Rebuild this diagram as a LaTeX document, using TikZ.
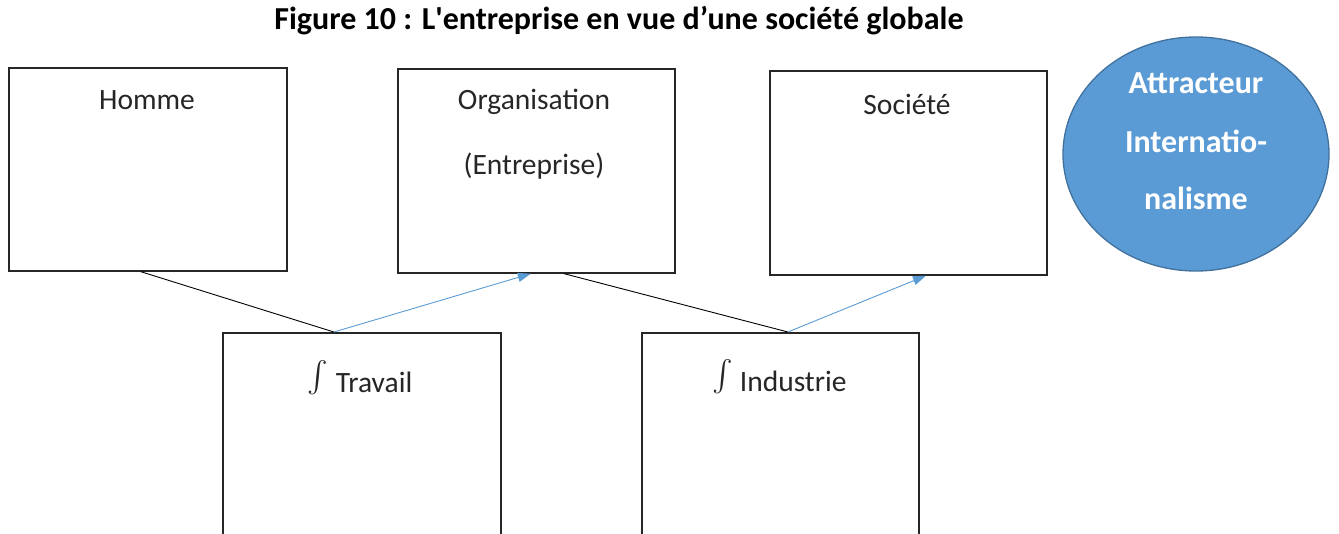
\documentclass[tikz,border=0pt]{standalone}
\usepackage{fontspec}
\usepackage{graphicx}
\setmainfont{Carlito}
\usetikzlibrary{arrows.meta,calc,shapes.geometric}
\definecolor{accent}{HTML}{5B9BD5}
\definecolor{accentdark}{HTML}{41719C}
\newcommand{\bigint}{\raisebox{-0.35ex}{\scalebox{3.1}{$\int$}}}
\begin{document}
\begin{tikzpicture}[x=1pt,y=-1pt,
  box/.style={draw=black!85,line width=1.7pt,minimum width=278pt,minimum height=203pt,inner sep=0pt,anchor=north west},
  lbl/.style={font=\fontsize{29.5}{34}\selectfont,text=black!85,inner sep=0pt},
  clbl/.style={font=\bfseries\fontsize{32}{36}\selectfont,text=white,inner sep=0pt},
  link/.style={black,line width=0.9pt},
  flow/.style={accent,line width=0.9pt,-{Triangle[length=13pt,width=9pt]}}]
\useasboundingbox (0,0) rectangle (1339,533);
\node[font=\bfseries\fontsize{32}{36}\selectfont,inner sep=0pt] (title) at (619,21) {Figure 10 : L\textquotesingle entreprise en vue d’une société globale};
\node[box] (homme) at (8,67) {};
\node[box,minimum width=277pt,minimum height=204pt] (org) at (397,68) {};
\node[box,minimum width=277pt,minimum height=204pt] (soc) at (769,70) {};
\node[box,minimum height=220pt] (trav) at (222,332) {};
\node[box,minimum width=277pt,minimum height=220pt] (ind) at (641,332) {};
\node[ellipse,draw=accentdark,line width=1.3pt,fill=accent,minimum width=266pt,minimum height=234pt,inner sep=0pt] (attr) at (1196,154) {};
\node[lbl] (thomme) at (147,100) {Homme};
\node[lbl] (torg1) at (534,102) {Organisation};
\node[lbl] (torg2) at (534,166) {(Entreprise)};
\node[lbl] (tsoc) at (907,104) {Société};
\node[clbl] (ta1) at (1196,83) {Attracteur};
\node[clbl] (ta2) at (1196,141) {Internatio-};
\node[clbl] (ta3) at (1196,198) {nalisme};
\node[lbl,anchor=west] (ttrav) at (307,379) {\bigint\kern8pt Travail};
\node[lbl,anchor=west] (tind) at (712,378) {\bigint\kern7pt Industrie};
\coordinate (h1) at ($(homme.south west)!0.475!(homme.south east)$);
\coordinate (t1) at ($(trav.north west)!0.4!(trav.north east)$);
\coordinate (o1) at ($(org.south west)!0.48!(org.south east)$);
\coordinate (o2) at ($(org.south west)!0.6!(org.south east)$);
\coordinate (i1) at ($(ind.north west)!0.527!(ind.north east)$);
\coordinate (s1) at ($(soc.south west)!0.563!(soc.south east)$);
\draw[link] (h1) -- (t1);
\draw[flow] (t1) -- (o1);
\draw[link] (o2) -- (i1);
\draw[flow] (i1) -- (s1);
\end{tikzpicture}
\end{document}
